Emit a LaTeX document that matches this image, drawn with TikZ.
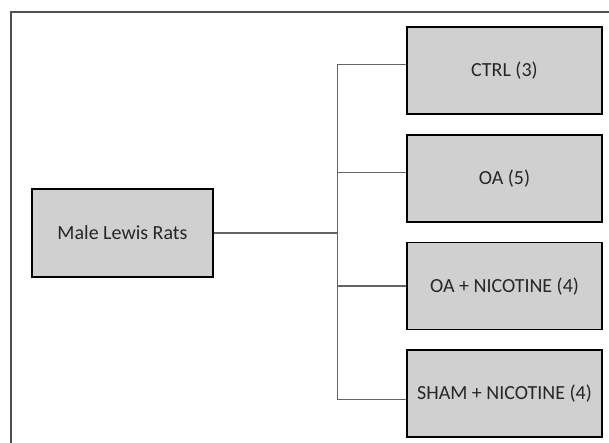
\documentclass[tikz,border=0pt]{standalone}
\usepackage{fontspec}
\setmainfont{Carlito}
\usetikzlibrary{positioning}

\definecolor{boxgray}{RGB}{208,208,208}
\definecolor{linkgray}{RGB}{100,100,100}
\definecolor{framegray}{RGB}{80,80,80}

\tikzset{
  group/.style={draw=black,line width=1.8pt,fill=boxgray,minimum width=195pt,
    minimum height=87pt,inner sep=0pt,text=black!85,font=\fontsize{20}{24}\selectfont},
  link/.style={draw=linkgray,line width=1.2pt},
  outline/.style={draw=framegray,line width=1.2pt}
}

\begin{document}
\begin{tikzpicture}[x=1pt,y=1pt]
  \useasboundingbox (0,0) rectangle (609,443);
  % frame (cut off at right and bottom)
  \draw[outline] (11,0) -- (11,431) -- (609,431);

  \node[group,minimum width=181pt,minimum height=88pt] (rats) at (122.5,210) {Male Lewis Rats};
  \node[group] (ctrl) at (504.5,372.5) {CTRL (3)};
  \node[group,below=19pt of ctrl] (oa) {OA (5)};
  \node[group,below=19pt of oa] (oanic) {OA + NICOTINE (4)};
  \node[group,below=19pt of oanic] (shamnic) {SHAM + NICOTINE (4)};

  \coordinate (trunk) at (337.5,210);
  \coordinate (ctrlin) at ([yshift=6pt]ctrl.west);
  \coordinate (oain) at ([yshift=6pt]oa.west);
  \coordinate (shamin) at ([yshift=-6pt]shamnic.west);

  \draw[link] (rats) -- (trunk);
  \draw[link] (ctrlin) -| (trunk) |- (shamin);
  \draw[link] (oain) -- (oain -| trunk);
  \draw[link] (oanic) -- (oanic -| trunk);
\end{tikzpicture}
\end{document}
